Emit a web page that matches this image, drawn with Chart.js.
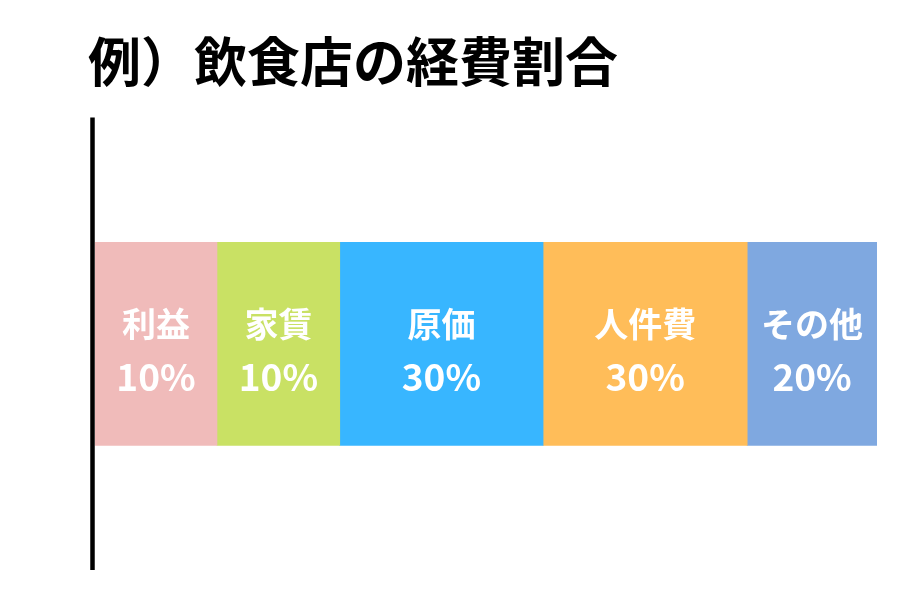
<!DOCTYPE html>
<html lang="ja">
<head>
    <meta charset="UTF-8">
    <title>例）飲食店の経費割合</title>
    <script src="https://cdn.jsdelivr.net/npm/chart.js"></script>
    <style>
        body { margin: 0; background: #fff; }
        #wrap { width: 900px; height: 600px; }
    </style>
</head>
<body>
    <div id="wrap"><canvas id="costChart" width="900" height="600"></canvas></div>

    <script>
        // data
        const categories = ['利益', '家賃', '原価', '人件費', 'その他'];
        const percentLabels = ['10%', '10%', '30%', '30%', '20%'];
        // drawn length of each block, as a share of the whole bar
        const barShares = [15.6, 15.7, 26.0, 26.1, 16.6];
        const colors = ['#F0BBBA', '#C9E164', '#38B6FF', '#FFBD59', '#7FA8E0'];

        const font = "'Noto Sans CJK JP', 'Noto Sans', sans-serif";

        const datasets = categories.map((name, i) => ({
            label: name,
            data: [barShares[i]],
            backgroundColor: colors[i],
            borderWidth: 0,
            barThickness: 203
        }));

        // black vertical rule just left of the bar
        const leftRule = {
            id: 'leftRule',
            afterDatasetsDraw(chart) {
                const { ctx, chartArea } = chart;
                ctx.save();
                ctx.strokeStyle = '#000';
                ctx.lineWidth = 4.5;
                ctx.beginPath();
                ctx.moveTo(chartArea.left - 2.5, chartArea.top);
                ctx.lineTo(chartArea.left - 2.5, chartArea.bottom);
                ctx.stroke();
                ctx.restore();
            }
        };

        // white two-line label in the middle of every block
        const blockLabels = {
            id: 'blockLabels',
            afterDatasetsDraw(chart) {
                const ctx = chart.ctx;
                ctx.save();
                ctx.fillStyle = '#ffffff';
                ctx.textAlign = 'center';
                ctx.textBaseline = 'middle';
                chart.data.datasets.forEach((ds, i) => {
                    const bar = chart.getDatasetMeta(i).data[0];
                    const cx = (bar.x + bar.base) / 2;
                    ctx.font = `bold 34px ${font}`;
                    ctx.fillText(categories[i], cx, bar.y - 20);
                    ctx.font = `bold 37px ${font}`;
                    ctx.fillText(percentLabels[i], cx, bar.y + 33);
                });
                ctx.restore();
            }
        };

        new Chart(document.getElementById('costChart'), {
            type: 'bar',
            data: { labels: [''], datasets: datasets },
            options: {
                indexAxis: 'y',
                responsive: false,
                animation: false,
                layout: { padding: { left: 88, right: 23, top: 0, bottom: 30 } },
                plugins: {
                    legend: { display: false },
                    tooltip: { enabled: false },
                    title: {
                        display: true,
                        text: '例）飲食店の経費割合',
                        align: 'start',
                        color: '#000',
                        font: { family: font, size: 53, weight: 'bold', lineHeight: 1.2 },
                        padding: { top: 30, bottom: 24 }
                    }
                },
                scales: {
                    x: {
                        stacked: true,
                        min: 0,
                        max: 100,
                        display: false
                    },
                    y: {
                        stacked: true,
                        grid: { display: false },
                        ticks: { display: false },
                        border: { display: false },
                        afterFit(scale) { scale.width = 7; }
                    }
                }
            },
            plugins: [blockLabels, leftRule]
        });
    </script>
</body>
</html>
